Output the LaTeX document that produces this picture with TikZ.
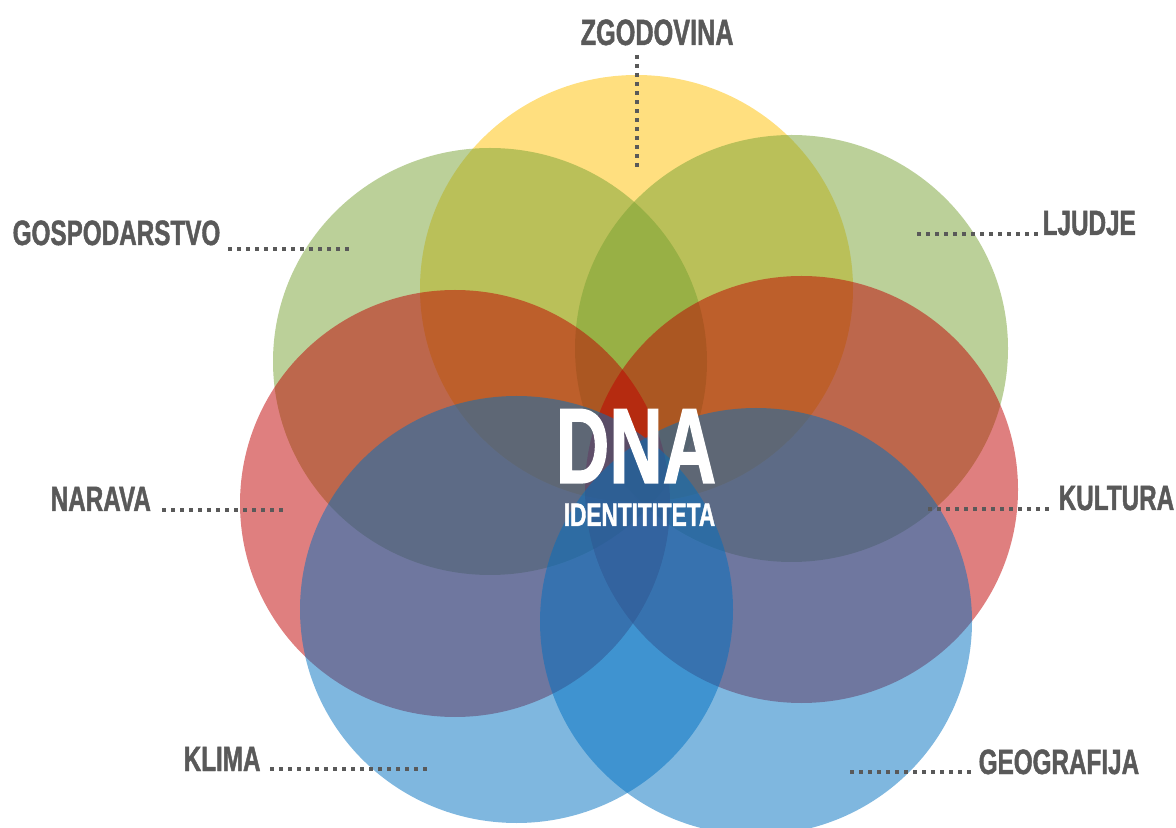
\documentclass[tikz,border=0pt]{standalone}
\usepackage{fontspec}
\newfontfamily\labfont{Liberation Sans}[FakeStretch=0.69,FakeBold=1.2]
\definecolor{cyel}{RGB}{255,192,0}
\definecolor{cgrn}{RGB}{119,161,51}
\definecolor{cred}{RGB}{192,0,0}
\definecolor{cblu}{RGB}{0,112,192}
\definecolor{ctxt}{RGB}{89,89,89}
\begin{document}
\begin{tikzpicture}[x=0.01cm,y=-0.01cm,
  blob/.style={fill opacity=0.5},
  lab/.style={text=ctxt,font=\labfont\bfseries\fontsize{10pt}{12pt}\selectfont,inner sep=0pt,anchor=base west},
  leader/.style={draw=ctxt,line width=0.04cm,dash pattern=on 0.04cm off 0.05cm}]
\useasboundingbox (0,0) rectangle (1176,828);
% circles
\fill[blob,cyel] (636.5,288.5) ellipse [x radius=216.5, y radius=213.5];
\fill[blob,cgrn] (490,361.5) ellipse [x radius=217, y radius=213.5];
\fill[blob,cgrn] (791.5,348.5) ellipse [x radius=216.5, y radius=213.5];
\fill[blob,cred] (455,503.5) ellipse [x radius=215, y radius=213.5];
\fill[blob,cred] (801.5,489.5) ellipse [x radius=216.5, y radius=213.5];
\fill[blob,cblu] (516.5,609.5) ellipse [x radius=216.5, y radius=213.5];
\fill[blob,cblu] (756,621.5) ellipse [x radius=216, y radius=213.5];
% labels
\node[lab,font=\labfont\bfseries\fontsize{10.4pt}{12pt}\selectfont] (zgod) at (580,45) {ZGODOVINA};
\node[lab] (gosp) at (12,245) {GOSPODARSTVO};
\node[lab] (ljud) at (1042,235) {LJUDJE};
\node[lab] (nara) at (50,511) {NARAVA};
\node[lab] (kult) at (1058,510) {KULTURA};
\node[lab] (klim) at (183,771) {KLIMA};
\node[lab] (geog) at (978,774) {GEOGRAFIJA};
% leaders
\coordinate (zgodA) at (637,55);  \coordinate (zgodB) at (637,168);
\coordinate (gospA) at (228,249); \coordinate (gospB) at (353,249);
\coordinate (ljudA) at (917,234); \coordinate (ljudB) at (1038,234);
\coordinate (naraA) at (162,510); \coordinate (naraB) at (286,510);
\coordinate (kultA) at (928,509); \coordinate (kultB) at (1049,509);
\coordinate (klimA) at (270,769); \coordinate (klimB) at (429,769);
\coordinate (geogA) at (850,772); \coordinate (geogB) at (973,772);
\draw[leader] (zgodA) -- (zgodB);
\draw[leader] (gospA) -- (gospB);
\draw[leader] (ljudA) -- (ljudB);
\draw[leader] (naraA) -- (naraB);
\draw[leader] (kultA) -- (kultB);
\draw[leader] (klimA) -- (klimB);
\draw[leader] (geogA) -- (geogB);
% centre text
\node[text=white,inner sep=0pt,anchor=base,font=\labfont\bfseries\fontsize{30.5pt}{34pt}\selectfont] (dna) at (636,483) {DNA};
\node[text=white,inner sep=0pt,anchor=base,font=\labfont\bfseries\fontsize{9.3pt}{11pt}\selectfont] (ident) at (639.5,526) {IDENTITITETA};
\end{tikzpicture}
\end{document}
